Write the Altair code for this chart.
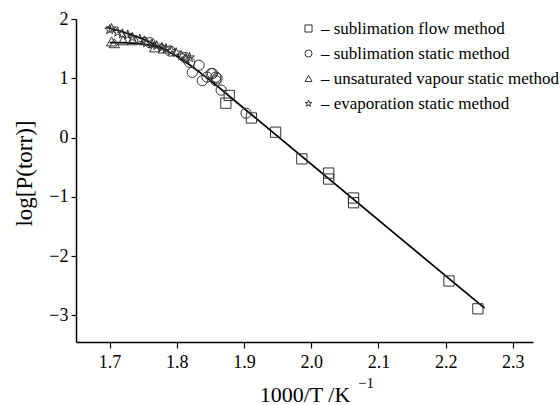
import altair as alt
import pandas as pd

FONT = "Liberation Serif"

# --- data ---
flow_x = [1.873, 1.878, 1.911, 1.947, 1.986, 2.026, 2.026, 2.063, 2.063, 2.205, 2.248]
flow_y = [0.58, 0.71, 0.33, 0.09, -0.36, -0.60, -0.70, -1.02, -1.10, -2.42, -2.89]

static_x = [1.760, 1.790, 1.812, 1.819, 1.823, 1.833, 1.838, 1.845, 1.851, 1.853, 1.858, 1.858, 1.860, 1.866, 1.903]
static_y = [1.60, 1.46, 1.35, 1.27, 1.10, 1.22, 0.96, 1.02, 1.08, 1.08, 1.02, 0.96, 1.00, 0.80, 0.41]

unsat_x = [1.703, 1.707, 1.720, 1.734, 1.752, 1.767, 1.780]
unsat_y = [1.62, 1.59, 1.64, 1.64, 1.64, 1.52, 1.50]

evap_x = [1.700, 1.703, 1.712, 1.719, 1.727, 1.734, 1.745, 1.755, 1.763, 1.770, 1.778, 1.784, 1.792, 1.799, 1.807, 1.814, 1.819]
evap_y = [1.82, 1.84, 1.78, 1.75, 1.73, 1.69, 1.66, 1.60, 1.58, 1.55, 1.52, 1.50, 1.46, 1.43, 1.38, 1.33, 1.35]

fit_x = [1.695, 1.72, 1.75, 1.78, 1.80, 1.82, 1.84, 1.86, 1.88, 2.258]
fit_y = [1.86, 1.78, 1.66, 1.50, 1.37, 1.22, 1.05, 0.87, 0.68, -2.88]

liq_x = [1.700, 1.720, 1.740, 1.760, 1.780]
liq_y = [1.60, 1.60, 1.59, 1.56, 1.50]

methods = [
    "– sublimation flow method",
    "– sublimation static method",
    "– unsaturated vapour static method",
    "– evaporation static method",
]

x_ticks = [1.7, 1.8, 1.9, 2.0, 2.1, 2.2, 2.3]
y_ticks = [-3, -2, -1, 0, 1, 2]

STAR = ("M0,-1L0.2245,-0.309L0.951,-0.309L0.363,0.118L0.588,0.809L0,0.382"
        "L-0.588,0.809L-0.363,0.118L-0.951,-0.309L-0.2245,-0.309Z")

rows = []
for xs, ys, m in [(flow_x, flow_y, methods[0]), (static_x, static_y, methods[1]),
                  (unsat_x, unsat_y, methods[2]), (evap_x, evap_y, methods[3])]:
    for a, b in zip(xs, ys):
        rows.append({"x": a, "y": b, "method": m})
pts = pd.DataFrame(rows)

lines = pd.DataFrame(
    [{"x": a, "y": b, "curve": "fit"} for a, b in zip(fit_x, fit_y)]
    + [{"x": a, "y": b, "curve": "liq"} for a, b in zip(liq_x, liq_y)]
)

xscale = alt.Scale(domain=[1.65, 2.33], nice=False, zero=False)
yscale = alt.Scale(domain=[-3.45, 2.0], nice=False, zero=False)

xaxis = alt.Axis(values=x_ticks, format=".1f", title="1000/T /K", grid=False,
                 labelFont=FONT, labelFontSize=18, labelColor="black", labelPadding=5,
                 titleFont=FONT, titleFontSize=22, titleFontWeight="normal", titleColor="black",
                 titlePadding=13, domainColor="black", domainWidth=1.5, tickColor="black",
                 tickWidth=1.2, tickSize=6)
yaxis = alt.Axis(values=y_ticks, format="d", title="log[P(torr)]", grid=False,
                 labelFont=FONT, labelFontSize=18, labelColor="black", labelPadding=3,
                 titleFont=FONT, titleFontSize=23, titleFontWeight="normal", titleColor="black",
                 titlePadding=12, titleY=154, domainColor="black", domainWidth=1.5,
                 tickColor="black", tickWidth=1.2, tickSize=5)

line_layer = alt.Chart(lines).mark_line(color="black", strokeWidth=1.7).encode(
    x=alt.X("x:Q", scale=xscale, axis=xaxis),
    y=alt.Y("y:Q", scale=yscale, axis=yaxis),
    detail="curve:N",
)

point_layer = alt.Chart(pts).mark_point(filled=False, strokeWidth=1, opacity=1, size=105).encode(
    x=alt.X("x:Q", scale=xscale),
    y=alt.Y("y:Q", scale=yscale),
    shape=alt.Shape(
        "method:N",
        scale=alt.Scale(domain=methods, range=["square", "circle", "triangle-up", STAR]),
        legend=alt.Legend(
            title=None, orient="none", legendX=224, legendY=1,
            labelFont=FONT, labelFontSize=17, labelColor="black",
            symbolSize=50, symbolStrokeColor="#333", symbolStrokeWidth=1,
            symbolFillColor="transparent", rowPadding=7, labelOffset=4,
            labelLimit=400,
        ),
    ),
    color=alt.value("#333"),
)

sup = alt.Chart(pd.DataFrame({"t": ["−1"]})).mark_text(
    font=FONT, fontSize=15, color="black", align="left", baseline="alphabetic"
).encode(text="t:N", x=alt.value(282), y=alt.value(369))

chart = alt.layer(line_layer, point_layer, sup).properties(
    width=457, height=323,
    padding={"left": 76, "top": 19, "right": 27, "bottom": 63},
    autosize=alt.AutoSizeParams(type="none"),
).configure_view(stroke=None)

chart.save("out.html", embed_options={"renderer": "svg", "actions": False})
